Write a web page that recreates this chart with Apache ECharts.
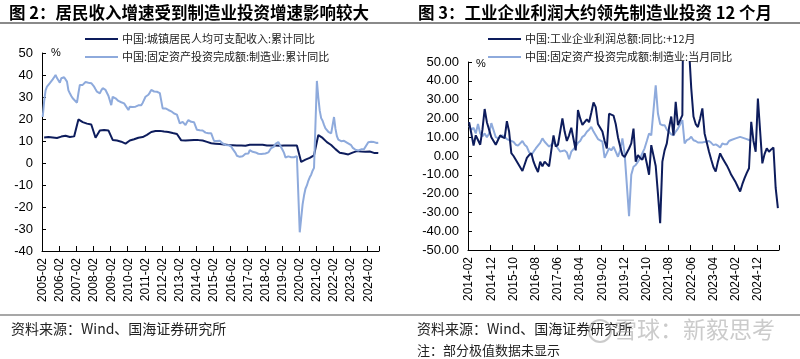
<!DOCTYPE html>
<html><head><meta charset="utf-8">
<script src="https://cdn.jsdelivr.net/npm/echarts@6/dist/echarts.min.js"></script>
<style>html,body{margin:0;padding:0;background:#fff}#c{width:800px;height:359px}</style>
</head><body><div id="c"></div>
<script>
// ---------- helpers ----------
function monthLabels(y0, m0, y1, m1) {
  const a = []; let y = y0, m = m0;
  while (y < y1 || (y === y1 && m <= m1)) {
    a.push(y + '-' + String(m).padStart(2, '0'));
    m++; if (m > 12) { m = 1; y++; }
  }
  return a;
}

// ---------- LEFT CHART DATA (图2) ----------
const leftCategories = monthLabels(2005, 2, 2024, 9);   // monthly 2005-02 .. 2024-09
const leftYTicks = { min: -40, max: 50, interval: 10 };
const leftSeriesNames = ['中国:城镇居民人均可支配收入:累计同比', '中国:固定资产投资完成额:制造业:累计同比'];

// urban disposable income per capita, cumulative yoy, quarterly from 2005Q1 (Mar/Jun/Sep/Dec)
const incomeQuarterly = [
  11.6, 11.8, 11.6, 11.4,   // 2005
  12.0, 12.4, 11.8, 12.1,   // 2006
  19.8, 18.6, 17.9, 17.5,   // 2007
  11.5, 14.8, 15.0, 14.8,   // 2008
  10.5, 10.2, 9.7, 8.8,     // 2009
  10.2, 10.8, 11.5, 11.8,   // 2010
  12.8, 14.1, 14.5, 14.6,   // 2011
  14.3, 14.1, 13.6, 13.2,   // 2012
  10.3, 10.2, 10.3, 10.4,   // 2013
  10.4, 10.2, 9.6, 9.0,     // 2014
  8.8, 8.6, 8.4, 8.2,       // 2015
  8.1, 8.0, 7.9, 7.8,       // 2016
  8.3, 8.3, 8.3, 8.3,       // 2017
  8.0, 7.9, 7.9, 7.8,       // 2018
  8.0, 8.0, 7.9, 7.9,       // 2019
  0.5, 1.5, 2.3, 3.5,       // 2020
  12.7, 11.4, 9.5, 8.2,     // 2021
  6.3, 4.7, 4.3, 3.9,       // 2022
  4.7, 5.4, 5.2, 5.1,       // 2023
  5.2, 4.6, 4.5             // 2024
];

// manufacturing FAI cumulative yoy, monthly (January not published -> null)
const mfgFaiCumulative = [
  20.9, 28, 33, 34.7, 35.5, 36.3, 37, 38, 39, 40, 38.6,                  // 2005 Feb-Dec
  null, 36.5, 38.5, 38.8, 39, 39, 37, 33, 31.7, 30.5, 29.4, 28.5,         // 2006
  null, 27.4, 31.7, 35.5, 35, 35.5, 36.3, 36.8, 37.4, 36.5, 36.8, 36.3,   // 2007
  null, 34.7, 33.5, 32.4, 32, 31.7, 33, 34, 33.5, 33.2, 32.5, 30.6,       // 2008
  null, 26.3, 30.1, 29.8, 29.4, 28.5, 28.2, 27.9, 27.6, 27.4, 27.1, 26.5, // 2009
  null, 24.1, 25.6, 25.6, 25.5, 25.6, 25.6, 26, 26.2, 26.3, 26.3, 27.3,   // 2010
  null, 30.1, 29.4, 31, 32, 33.2, 32.8, 32.5, 32.4, 32.4, 32.4, 31.8,     // 2011
  null, 24.8, 25, 24.8, 24.5, 24.1, 23.8, 23.5, 23.3, 22.5, 21.8, 22.0,   // 2012
  null, 18, 18.5, 18.7, 18.3, 17.2, 18.5, 19.5, 19, 18.7, 18.7, 18.5,     // 2013
  null, 15.1, 14.9, 14.9, 14.3, 14.8, 14.0, 13.8, 13.8, 13.5, 13.5, 13.5, // 2014
  null, 10.0, 10.4, 10.0, 10.0, 10.1, 9.4, 8.9, 8.3, 8.2, 8.3, 8.1,       // 2015
  null, 7.5, 6.4, 6.0, 4.6, 3.3, 2.8, 2.8, 3.1, 3.1, 3.6, 4.2,            // 2016
  null, 4.3, 5.8, 5.4, 5.1, 5.5, 4.8, 4.5, 4.2, 4.1, 4.1, 4.8,            // 2017
  null, 4.3, 3.8, 4.8, 5.2, 6.8, 7.3, 7.5, 8.7, 9.1, 9.5, 9.5,            // 2018
  null, 5.9, 4.6, 2.5, 2.7, 3.0, 3.3, 2.6, 2.5, 2.6, 2.5, 3.1,            // 2019
  null, -31.5, -25.2, -18.8, -14.8, -11.7, -10.2, -8.1, -6.5, -5.3, -3.5, -2.2, // 2020
  null, 37.3, 29.8, 23.8, 20.4, 19.2, 17.3, 15.7, 14.8, 14.2, 13.7, 13.5, // 2021
  null, 20.9, 15.6, 12.2, 10.6, 10.4, 9.9, 10.0, 10.1, 9.7, 9.3, 9.1,     // 2022
  null, 8.1, 7.0, 6.4, 6.0, 6.0, 5.7, 5.9, 6.2, 6.2, 6.3, 6.5,            // 2023
  null, 9.4, 9.9, 9.7, 9.6, 9.5, 9.3, 9.1, 9.2                           // 2024 Jan-Sep
];

// ---------- RIGHT CHART DATA (图3) ----------
const rightCategories = monthLabels(2014, 2, 2025, 9);  // monthly 2014-02 .. 2025-09
const rightYTicks = { min: -50, max: 50, interval: 10 };
const rightSeriesNames = ['中国:工业企业利润总额:同比:+12月', '中国:固定资产投资完成额:制造业:当月同比'];

// industrial profits yoy, plotted 12 months ahead (values above 50 are clipped by the axis)
const profitYoYLead12 = [
  18, 12, 5.5, 11, 8.5, 6, 14, 25, 18, 14, 10,                   // 2014 Feb-Dec
  null, 6, 8.5, 11, 10, 9.5, 18.5, 13, 1.5, 0, -2, -4,            // 2015
  null, -8, -4.5, -1, 0.5, 1.5, -3, -6, -8.5, -3, -5.5, -3,       // 2016
  null, -5.5, 3, 11, 5, 6, 13, 20, 13, 8, 11, 15,                 // 2017
  null, 3, 24.5, 20, 16.5, 18, 19.5, 18, 23, 28.5, 26, 17,        // 2018
  null, 13, 8, 4, 22.5, 22, 21.5, 17, 10, 5, 0.5, -0.5,           // 2019
  null, 4, 6.7, 14.6, -3, 0.5, -1, -2, 1.5, -4, -10, 5.8,         // 2020
  null, -5.3, -20, -35.7, -3, 3, 6.7, 15, 21, 11, 28.8, 16.4,     // 2021
  null, 21.7, 178, 92, 57, 36, 21, 17, 15.4, 20, 25.3, 12,        // 2022
  null, 2.3, -2, -6, -8.3, -3, 1.4, -1, -3, -5, -7.4, -10,        // 2023
  null, -14, -16.5, -18.9, -15, -11.8, -9, -6.5, 18.2, 8, 2.3, 30.6, // 2024
  null, -3.9, 1, 4.1, 2.3, 3.5, 4.5, -17, -27.7                   // 2025 Jan-Sep
];

// manufacturing FAI monthly yoy
const mfgFaiMonthly = [
  16, 14, 15, 12, 17, 12, 10.5, 12, 10, 12, 17.5,                 // 2014 Feb-Dec
  null, 10, 9.5, 10, 11, 10, 9, 8.5, 8, 7.5, 6, 5.5,              // 2015
  null, 8, 6, 4.9, 2, 0.5, 2.3, 4, 5.5, 7, 9.4, 7.6,              // 2016
  null, 5, 6, 7.2, 6.2, 4, 2.3, 2.7, 3, 1.9, -1.7, 2.3,           // 2017
  null, 4.9, 7, 8, 10.2, 11, 12.9, 14, 15.5, 13, 11, 9,           // 2018
  null, 7.6, -1, 1.5, 4.1, 3, 4.9, 2.3, -0.4, 3, 9.4, 1.4,        // 2019
  null, -32, -10, -5.7, -4.8, -3, -1.2, 1.5, 4.1, 8, 12, 11,      // 2020
  null, 37.6, 22.6, 17, 16.4, 16.4, 14, 12.9, 11.5, 11, 13, 14.6, // 2021
  null, 19.1, 6.7, 8.4, 9, 10.2, 8.4, 8, 7.2, 7.2, 7.2, 7.5,      // 2022
  null, 8, 7, 5.8, 6.2, 5.5, 4.5, 6.7, 6.2, 6.2, 8, 8.5,          // 2023
  null, 9.4, 9.8, 10.2, 9.8, 9.4, 9, 8.5, 8, null, null, null,    // 2024
  null, null, null, null, null, null, null, null, null            // 2025
];

// ---------- build ----------
const DARK = '#0d1c5c', LIGHT = '#8eaadc';
const NUM_FONT = 'Liberation Sans, Arial, sans-serif';
const CJK_FONT = 'Noto Sans CJK SC, sans-serif';

const incomeSeries = leftCategories.map(() => null);
incomeQuarterly.forEach((v, i) => {
  const y = 2005 + Math.floor(i / 4), m = (i % 4 + 1) * 3;
  const idx = leftCategories.indexOf(y + '-' + String(m).padStart(2, '0'));
  if (idx >= 0) incomeSeries[idx] = v;
});

function catAxes(grid, cats, interval) {
  return [
    { type: 'category', gridIndex: grid, data: cats, boundaryGap: true, position: 'bottom',
      axisLine: { show: false }, axisTick: { show: false }, splitLine: { show: false },
      axisLabel: { interval: interval, rotate: 90, fontSize: 12, color: '#000', fontFamily: NUM_FONT, margin: 7 } },
    { type: 'category', gridIndex: grid, data: cats, boundaryGap: true, position: 'bottom',
      axisLine: { show: true, onZero: true, lineStyle: { color: '#000', width: 1 } },
      axisTick: { show: true, inside: true, interval: interval, length: 5, lineStyle: { color: '#000' } },
      axisLabel: { show: false }, splitLine: { show: false } }
  ];
}
function valAxis(grid, t, fmt) {
  return { type: 'value', gridIndex: grid, min: t.min, max: t.max, interval: t.interval,
    axisLine: { show: true, onZero: false, lineStyle: { color: '#000', width: 1 } },
    axisTick: { show: true, inside: true, length: 4, lineStyle: { color: '#000' } },
    splitLine: { show: false },
    axisLabel: { fontSize: 13, color: '#000', fontFamily: NUM_FONT, margin: 9, formatter: fmt } };
}
function lineSeries(name, xi, yi, data, color, z) {
  return { type: 'line', name: name, xAxisIndex: xi, yAxisIndex: yi, data: data, color: color,
    showSymbol: false, symbol: 'none', connectNulls: true, clip: true, z: z,
    lineStyle: { color: color, width: 2 }, animation: false };
}
function legendFor(names, left) {
  return { data: names, left: left, top: 27, orient: 'vertical', icon: 'rect',
    itemWidth: 33, itemHeight: 2, itemGap: 4, selectedMode: false,
    textStyle: { fontSize: 11, lineHeight: 14, color: '#222', fontFamily: CJK_FONT, padding: [0, 0, 0, -1] } };
}

const chart = echarts.init(document.getElementById('c'), null, { renderer: 'canvas' });
chart.setOption({
  backgroundColor: '#fff',
  animation: false,
  grid: [
    { left: 42, top: 53, width: 337, height: 198 },
    { left: 468, top: 62, width: 311, height: 188 }
  ],
  legend: [legendFor(leftSeriesNames, 80), legendFor(rightSeriesNames, 483)],
  xAxis: [].concat(catAxes(0, leftCategories, 11), catAxes(1, rightCategories, 9)),
  yAxis: [valAxis(0, leftYTicks, v => String(v)), valAxis(1, rightYTicks, v => v.toFixed(2))],
  series: [
    lineSeries(leftSeriesNames[0], 0, 0, incomeSeries, DARK, 2),
    lineSeries(leftSeriesNames[1], 0, 0, mfgFaiCumulative, LIGHT, 3),
    lineSeries(rightSeriesNames[0], 2, 1, profitYoYLead12, DARK, 3),
    lineSeries(rightSeriesNames[1], 2, 1, mfgFaiMonthly, LIGHT, 2)
  ],
  graphic: [
    { type: 'text', left: 9, top: 4, style: { text: '图 2：居民收入增速受到制造业投资增速影响较大', font: 'bold 16.5px ' + CJK_FONT, fill: '#000' } },
    { type: 'text', left: 418, top: 4, style: { text: '图 3：工业企业利润大约领先制造业投资 12 个月', font: 'bold 16.5px ' + CJK_FONT, fill: '#000' } },
    { type: 'line', shape: { x1: 0, y1: 23, x2: 800, y2: 23 }, style: { stroke: '#8a8a8a', lineWidth: 2 } },
    { type: 'line', shape: { x1: 0, y1: 315, x2: 800, y2: 315 }, style: { stroke: '#8a8a8a', lineWidth: 1.5 } },
    { type: 'text', left: 51, top: 47, style: { text: '%', font: '11px ' + NUM_FONT, fill: '#000' } },
    { type: 'text', left: 476, top: 58, style: { text: '%', font: '11px ' + NUM_FONT, fill: '#000' } },
    { type: 'text', left: 11, top: 322, style: { text: '资料来源：Wind、国海证券研究所', font: '14px ' + CJK_FONT, fill: '#222' } },
    { type: 'text', left: 417, top: 322, style: { text: '资料来源：Wind、国海证券研究所', font: '14px ' + CJK_FONT, fill: '#222' } },
    { type: 'text', left: 417, top: 344, style: { text: '注：部分极值数据未显示', font: '13px ' + CJK_FONT, fill: '#222' } },
    { type: 'circle', shape: { cx: 600, cy: 331, r: 11 }, style: { fill: 'none', stroke: 'rgba(160,160,160,0.55)', lineWidth: 2 }, z: 100 },
    { type: 'text', left: 614, top: 318, z: 100, style: { text: '雪球：新毅思考', font: '23px ' + CJK_FONT, fill: 'rgba(160,160,160,0.55)' } }
  ]
});
</script>
</body></html>
